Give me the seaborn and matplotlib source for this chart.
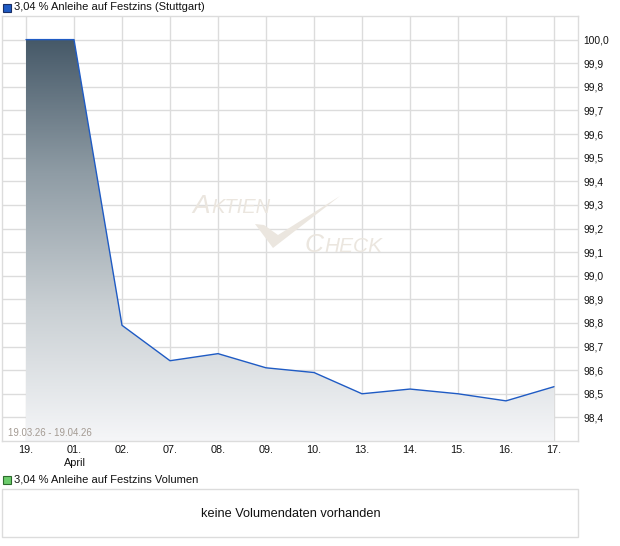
import numpy as np
import pandas as pd
import matplotlib
matplotlib.use("Agg")
import matplotlib.pyplot as plt
from matplotlib.colors import LinearSegmentedColormap
from matplotlib.patches import Rectangle, Polygon
import seaborn as sns

# ---- data ----
dates = ["19.", "01.", "02.", "07.", "08.", "09.", "10.", "13.", "14.", "15.", "16.", "17."]
prices = [100.00, 100.00, 98.79, 98.64, 98.67, 98.61, 98.59, 98.50, 98.52, 98.50, 98.47, 98.53]
y_ticks = [98.4, 98.5, 98.6, 98.7, 98.8, 98.9, 99.0, 99.1, 99.2, 99.3, 99.4, 99.5, 99.6, 99.7, 99.8, 99.9, 100.0]
title_main = "3,04 % Anleihe auf Festzins (Stuttgart)"
title_vol = "3,04 % Anleihe auf Festzins Volumen"
range_text = "19.03.26 - 19.04.26"
no_vol_text = "keine Volumendaten vorhanden"
month_label = "April"

sns.set_theme(style="white")
plt.rcParams['font.family'] = ['Liberation Sans', 'DejaVu Sans']

W, H = 620, 546
fig = plt.figure(figsize=(W / 100, H / 100), dpi=100)

def fx(px):
    return px / W

def fy(py):
    return 1 - py / H

grid_c = "#dcdcdc"
ax = fig.add_axes([fx(2), fy(441), fx(578) - fx(2), fy(16) - fy(441)])
ylo, yhi = 98.3, 100.1
xs = np.arange(len(dates))
df = pd.DataFrame({"i": xs, "p": prices})

def ax_xy(px, py):
    return ((px - 2) / 576.0, (441 - py) / 425.0)

# gradient fill under the line
poly = ax.fill_between(xs, prices, ylo, facecolor="none", edgecolor="none")
cmap = LinearSegmentedColormap.from_list("g", ["#f5f6f8", "#c9cfd3", "#8f9ca5", "#465968"])
grad = np.linspace(0, 1, 256).reshape(-1, 1)
im = ax.imshow(grad, cmap=cmap, origin="lower", aspect="auto",
               extent=[-0.5, 11.5, ylo, 100.0], zorder=1)
im.set_clip_path(poly.get_paths()[0], transform=ax.transData)

sns.lineplot(data=df, x="i", y="p", ax=ax, color="#1f5bc4", linewidth=1.0, zorder=3)

ax.set_xlim(-0.5, 11.5)
ax.set_ylim(ylo, yhi)
ax.set_xticks(xs)
ax.set_xticklabels(dates)
ax.set_yticks(y_ticks)
ax.set_yticklabels([f"{v:.1f}".replace(".", ",") for v in y_ticks])
ax.yaxis.tick_right()
ax.tick_params(axis="both", length=0, colors="#111111")
ax.tick_params(axis="y", pad=4, labelsize=7.4)
ax.tick_params(axis="x", pad=3, labelsize=7.8)
ax.set_xlabel("")
ax.set_ylabel("")
for yv in np.arange(98.4, 100.05, 0.1):
    ax.axhline(yv, color=grid_c, linewidth=1.0, zorder=0)
for xv in xs:
    ax.axvline(xv, color=grid_c, linewidth=1.0, zorder=0)
for s in ax.spines.values():
    s.set_visible(True)
    s.set_color(grid_c)
    s.set_linewidth(1.0)

# watermark
wm = "#ebe6df"
x0, y0 = ax_xy(192, 213)
ax.text(x0, y0, "A", transform=ax.transAxes, fontsize=19, style="italic",
        color=wm, ha="left", va="baseline", zorder=2)
x0, y0 = ax_xy(211, 213)
ax.text(x0, y0, "KTIEN", transform=ax.transAxes, fontsize=14.5, style="italic",
        color=wm, ha="left", va="baseline", zorder=2)
x0, y0 = ax_xy(305, 252)
ax.text(x0, y0, "C", transform=ax.transAxes, fontsize=19, style="italic",
        color=wm, ha="left", va="baseline", zorder=2)
x0, y0 = ax_xy(324, 252)
ax.text(x0, y0, "HECK", transform=ax.transAxes, fontsize=15, style="italic",
        color=wm, ha="left", va="baseline", zorder=2)
check_pts = [ax_xy(*p) for p in [(255, 224), (273, 248), (340, 196), (278, 235), (264, 225)]]
ax.add_patch(Polygon(check_pts, closed=True, transform=ax.transAxes,
                     facecolor=wm, edgecolor="none", zorder=2))

ax.text(0.01, 0.008, range_text, transform=ax.transAxes, fontsize=6.9,
        color="#a39a92", ha="left", va="bottom", zorder=4)

# April label under "01."
fig.text(fx(75), fy(463), month_label, fontsize=7.8, color="#111111", ha="center", va="center")

# title with blue square
fig.patches.append(Rectangle((fx(3), fy(12)), fx(8), fy(4) - fy(12), transform=fig.transFigure,
                             facecolor="#1f5bc4", edgecolor="#1a2f66", linewidth=0.8))
fig.text(fx(14), fy(7.5), title_main, fontsize=8.0, color="#111111", ha="left", va="center")

# volume section
fig.patches.append(Rectangle((fx(3), fy(484)), fx(8), fy(476) - fy(484), transform=fig.transFigure,
                             facecolor="#6ccc6c", edgecolor="#2d6b2d", linewidth=0.8))
fig.text(fx(14), fy(480), title_vol, fontsize=8.0, color="#111111", ha="left", va="center")
fig.patches.append(Rectangle((fx(2), fy(537)), fx(578) - fx(2), fy(489) - fy(537),
                             transform=fig.transFigure, facecolor="white",
                             edgecolor=grid_c, linewidth=1.0))
fig.text(fx(291), fy(514), no_vol_text, fontsize=9.2, color="#111111", ha="center", va="center")

fig.savefig("out.png", dpi=100)
